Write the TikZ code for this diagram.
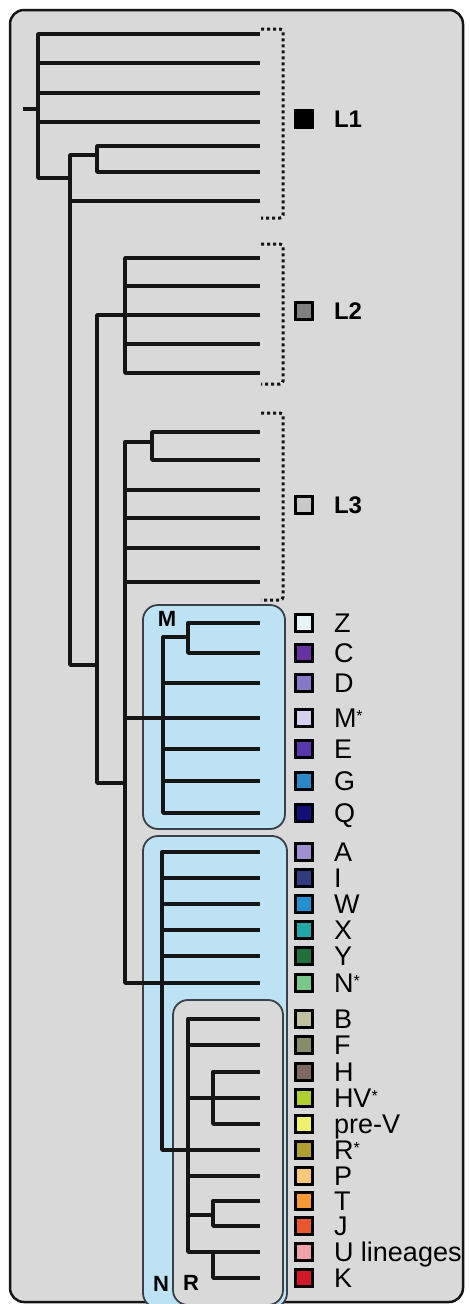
\documentclass[tikz,border=0pt]{standalone}
\usepackage{fontspec}
\setmainfont{Liberation Sans}
\usetikzlibrary{positioning}

\definecolor{panelgray}{HTML}{D9D9D9}
\definecolor{boxblue}{HTML}{BCE2F4}
\definecolor{boxedge}{HTML}{3A4048}
\definecolor{linedark}{HTML}{151515}
\definecolor{cL2}{HTML}{7F7F7F}
\definecolor{cL3}{HTML}{C8C8C8}
\definecolor{cZ}{HTML}{E6F4F8}
\definecolor{cC}{HTML}{6830A0}
\definecolor{cD}{HTML}{8878C8}
\definecolor{cMs}{HTML}{D8D0F0}
\definecolor{cE}{HTML}{5838B0}
\definecolor{cG}{HTML}{2888C8}
\definecolor{cQ}{HTML}{101078}
\definecolor{cA}{HTML}{A090D0}
\definecolor{cI}{HTML}{303C80}
\definecolor{cW}{HTML}{2090D0}
\definecolor{cX}{HTML}{20A8A8}
\definecolor{cY}{HTML}{20703C}
\definecolor{cNs}{HTML}{78C888}
\definecolor{cB}{HTML}{C0C0A0}
\definecolor{cF}{HTML}{888C68}
\definecolor{cH}{HTML}{806860}
\definecolor{cHV}{HTML}{B0D030}
\definecolor{cpreV}{HTML}{F0F070}
\definecolor{cRs}{HTML}{B0A030}
\definecolor{cP}{HTML}{F8C878}
\definecolor{cT}{HTML}{F89838}
\definecolor{cJ}{HTML}{E85830}
\definecolor{cU}{HTML}{F0A0A8}
\definecolor{cK}{HTML}{D01828}

\newcommand\tagstar{\raisebox{6pt}{\fontsize{16}{16}\selectfont *}}

\begin{document}
\begin{tikzpicture}[x=1pt,y=-1pt, branch/.style={draw=linedark,line width=3.4pt,line join=round}, bracket/.style={draw=linedark,line width=3pt,dash pattern=on 3pt off 3pt,rounded corners=3pt}, groupbox/.style={draw=boxedge,line width=1.8pt,rounded corners=15pt}, swatch/.style={draw=black,line width=2.6pt,minimum size=17pt,inner sep=0pt}, taxon/.style={font=\fontsize{27}{29}\selectfont,inner sep=0pt,text height=19pt,text depth=0pt,anchor=west}, clade/.style={font=\bfseries\fontsize{24}{26}\selectfont,inner sep=0pt,text height=17pt,text depth=0pt,anchor=west}, grouplabel/.style={font=\bfseries\fontsize{22}{24}\selectfont,inner sep=0pt}]

  \useasboundingbox (0,0) rectangle (470,1304);
  \draw[fill=panelgray,draw=linedark,line width=2.5pt,rounded corners=14pt] (10,10) rectangle (463,1302);

  \draw[groupbox,fill=boxblue] (143,605) rectangle (285,829);
  \draw[groupbox,fill=boxblue] (143,836) rectangle (287,1308);
  \draw[groupbox,fill=panelgray] (173,1000) rectangle (283,1305);
  \node[grouplabel] (gM) at (167,619) {M};
  \node[grouplabel] (gN) at (161,1284) {N};
  \node[grouplabel] (gR) at (191,1283) {R};

  % internal nodes
  \coordinate (stub) at (23,109);
  \coordinate (root) at (38,109);
  \coordinate (n1) at (70,178);
  \coordinate (n1a) at (97,155);
  \coordinate (n2) at (97,665);
  \coordinate (l2n) at (125,315);
  \coordinate (n3) at (125,783);
  \coordinate (l3a) at (152,442);
  \coordinate (mn) at (163,718);
  \coordinate (mza) at (188,637);
  \coordinate (nn) at (162,983);
  \coordinate (rn) at (188,1150);
  \coordinate (rh) at (213,1098);
  \coordinate (rtj) at (213,1215);
  \coordinate (ruk) at (213,1252);

  % unlabelled leaves
  \foreach \i/\y in {a/34,b/63,c/93,d/122,e/146,f/172,g/201}
    \coordinate (L1\i) at (260,\y);
  \foreach \i/\y in {a/258,b/286,c/315,d/344,e/373}
    \coordinate (L2\i) at (260,\y);
  \foreach \i/\y in {a/432,b/460,c/490,d/518,e/548,f/582}
    \coordinate (L3\i) at (260,\y);

  % labelled leaves
  \foreach \nm/\y/\txt in {Z/623/Z,C/653/C,D/683/D,Ms/718/M\tagstar,E/749/E,G/781/G,Q/813/Q,A/852/A,I/878/I,W/904/W,X/930/X,Y/956/Y,Ns/983/N\tagstar,B/1019/B,F/1045/F,H/1072/H,HV/1098/HV\tagstar,preV/1124/pre-V,Rs/1150/R\tagstar,P/1176/P,T/1201/T,J/1226/J,U/1252/U lineages,K/1278/K}{
    \coordinate (l\nm) at (260,\y);
    \node[swatch,fill=c\nm] (s\nm) at (304,\y) {};
    \node[taxon] (t\nm) [right=20pt of s\nm] {\txt};
  }

  \node[swatch,fill=black] (sL1) at (304,119) {};
  \node[clade] (tL1) [right=20pt of sL1] {L1};
  \node[swatch,fill=cL2] (sL2) at (304,311) {};
  \node[clade] (tL2) [right=20pt of sL2] {L2};
  \node[swatch,fill=cL3] (sL3) at (304,505) {};
  \node[clade] (tL3) [right=20pt of sL3] {L3};

  \coordinate (b1t) at (261,29);  \coordinate (b1m) at (283,120); \coordinate (b1b) at (261,218);
  \coordinate (b2t) at (261,244); \coordinate (b2m) at (283,311); \coordinate (b2b) at (261,384);
  \coordinate (b3t) at (261,413); \coordinate (b3m) at (283,505); \coordinate (b3b) at (261,600);
  \draw[bracket] (b1t) -| (b1m) |- (b1b);
  \draw[bracket] (b2t) -| (b2m) |- (b2b);
  \draw[bracket] (b3t) -| (b3m) |- (b3b);

  \draw[branch] (stub) -- (root);
  \draw[branch] (root) |- (L1a) (root) |- (L1b) (root) |- (L1c) (root) |- (L1d) (root) |- (n1);
  \draw[branch] (n1) |- (n1a) (n1a) |- (L1e) (n1a) |- (L1f) (n1) |- (L1g) (n1) |- (n2);
  \draw[branch] (n2) |- (l2n) (n2) |- (n3);
  \draw[branch] (l2n) |- (L2a) (l2n) |- (L2b) (l2n) |- (L2c) (l2n) |- (L2d) (l2n) |- (L2e);
  \draw[branch] (n3) |- (l3a) (l3a) |- (L3a) (l3a) |- (L3b);
  \draw[branch] (n3) |- (L3c) (n3) |- (L3d) (n3) |- (L3e) (n3) |- (L3f) (n3) |- (mn) (n3) |- (nn);
  \draw[branch] (mn) |- (mza) (mza) |- (lZ) (mza) |- (lC);
  \draw[branch] (mn) |- (lD) (mn) |- (lMs) (mn) |- (lE) (mn) |- (lG) (mn) |- (lQ);
  \draw[branch] (nn) |- (lA) (nn) |- (lI) (nn) |- (lW) (nn) |- (lX) (nn) |- (lY) (nn) |- (lNs) (nn) |- (rn);
  \draw[branch] (rn) |- (lB) (rn) |- (lF) (rn) |- (rh) (rn) |- (lRs) (rn) |- (lP) (rn) |- (rtj) (rn) |- (lU);
  \draw[branch] (rh) |- (lH) (rh) |- (lHV) (rh) |- (lpreV);
  \draw[branch] (rtj) |- (lT) (rtj) |- (lJ) (ruk) |- (lK);
\end{tikzpicture}
\end{document}
